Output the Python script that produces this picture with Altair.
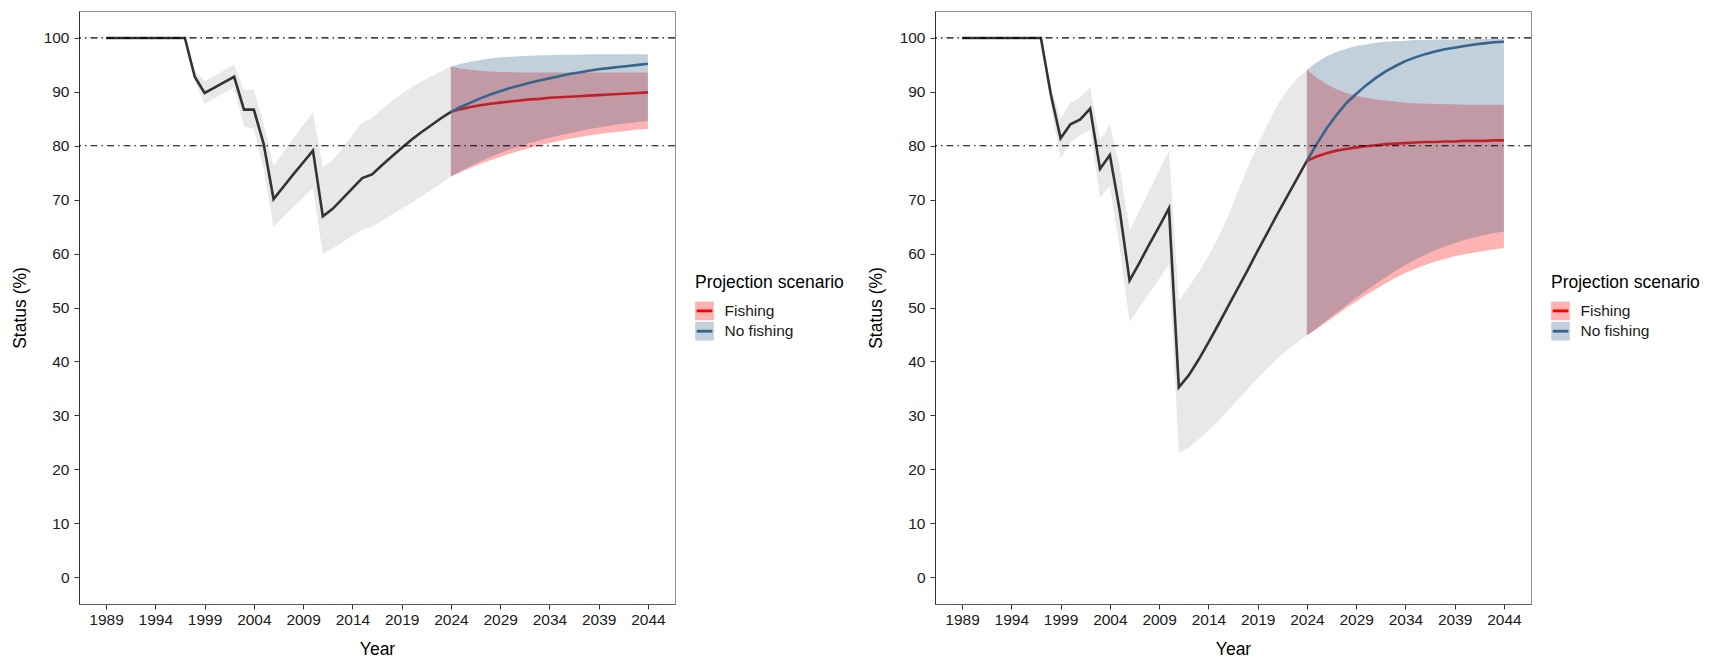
import altair as alt
import pandas as pd

# ---------------- data ----------------
YEARS_HIST = list(range(1989, 2025))
YEARS_PROJ = list(range(2024, 2045))
X_TICKS = [1989, 1994, 1999, 2004, 2009, 2014, 2019, 2024, 2029, 2034, 2039, 2044]
Y_TICKS = [0, 10, 20, 30, 40, 50, 60, 70, 80, 90, 100]
REF_LEVELS = [100, 80]
SCENARIOS = ["Fishing", "No fishing"]

# Left panel - historical
L_HIST = [100, 100, 100, 100, 100, 100, 100, 100, 100,
          92.8, 89.8, 90.8, 91.8, 92.8, 86.7, 86.7, 80.3, 70.1, 72.4, 74.7, 76.9, 79.1,
          66.9, 68.3, 70.2, 72.1, 74.0, 74.7, 76.4, 78.0, 79.6, 81.1, 82.5, 83.8, 85.1, 86.3]
L_HIST_LO = [100, 100, 100, 100, 100, 100, 100, 100, 100,
             92.0, 87.8, 88.8, 89.8, 90.8, 83.5, 83.2, 75.5, 65.0, 66.8, 68.6, 70.4, 72.2,
             59.9, 61.0, 62.1, 63.3, 64.4, 65.0, 66.1, 67.2, 68.3, 69.4, 70.6, 71.8, 73.0, 74.3]
L_HIST_HI = [100, 100, 100, 100, 100, 100, 100, 100, 100,
             93.9, 92.0, 93.0, 94.0, 95.0, 90.3, 90.4, 84.0, 76.3, 78.8, 81.3, 83.8, 86.2,
             76.0, 77.3, 79.6, 82.0, 84.3, 85.1, 86.8, 88.3, 89.6, 90.8, 91.9, 92.9, 93.8, 94.7]
# Left panel - projections (2024-2044)
L_F_MID = [86.3, 86.8, 87.2, 87.5, 87.8, 88.0, 88.2, 88.4, 88.6, 88.7, 88.9,
           89.0, 89.1, 89.2, 89.3, 89.4, 89.5, 89.6, 89.7, 89.8, 89.9]
L_F_LO = [74.3, 75.1, 75.9, 76.6, 77.3, 77.9, 78.5, 79.1, 79.6, 80.1, 80.5,
          80.9, 81.3, 81.6, 81.9, 82.2, 82.4, 82.6, 82.8, 83.0, 83.1]
L_F_HI = [94.7, 94.3, 94.1, 93.9, 93.8, 93.7, 93.7, 93.6, 93.6, 93.6, 93.6,
          93.6, 93.6, 93.6, 93.6, 93.6, 93.6, 93.6, 93.6, 93.6, 93.6]
L_NF_MID = [86.3, 87.2, 88.0, 88.8, 89.5, 90.1, 90.7, 91.2, 91.7, 92.1, 92.5,
            92.9, 93.3, 93.6, 93.9, 94.2, 94.4, 94.6, 94.8, 95.0, 95.2]
L_NF_LO = [74.3, 75.3, 76.2, 77.1, 77.9, 78.6, 79.3, 79.9, 80.5, 81.0, 81.5,
           81.9, 82.3, 82.7, 83.1, 83.4, 83.7, 84.0, 84.2, 84.4, 84.6]
L_NF_HI = [94.7, 95.2, 95.6, 95.9, 96.2, 96.4, 96.5, 96.6, 96.7, 96.8, 96.8,
           96.9, 96.9, 96.9, 97.0, 97.0, 97.0, 97.0, 97.0, 97.0, 97.0]

# Right panel - historical
R_HIST = [100, 100, 100, 100, 100, 100, 100, 100, 100,
          89.6, 81.4, 84.0, 84.9, 86.9, 75.7, 78.3, 68.0, 55.0, 58.3, 61.7, 65.0, 68.4,
          35.2, 37.4, 40.3, 43.5, 46.8, 50.2, 53.6, 57.0, 60.5, 63.9, 67.3, 70.6, 73.9, 77.2]
R_HIST_LO = [100, 100, 100, 100, 100, 100, 100, 100, 100,
             87.5, 77.7, 80.5, 82.0, 83.0, 70.4, 72.5, 61.0, 47.3, 50.0, 52.7, 55.3, 58.0,
             23.0, 24.0, 25.5, 27.2, 29.0, 30.9, 32.9, 34.9, 36.9, 38.8, 40.5, 42.1, 43.5, 44.8]
R_HIST_HI = [100, 100, 100, 100, 100, 100, 100, 100, 100,
             91.0, 85.0, 88.0, 89.0, 90.8, 81.0, 84.0, 76.0, 64.3, 68.0, 71.7, 75.4, 79.1,
             51.3, 53.8, 56.5, 59.5, 63.0, 67.0, 71.5, 76.0, 80.0, 84.0, 87.5, 90.3, 92.5, 94.1]
# Right panel - projections (2024-2044)
R_F_MID = [77.2, 78.0, 78.6, 79.1, 79.4, 79.7, 79.9, 80.1, 80.3, 80.4, 80.5,
           80.6, 80.7, 80.7, 80.8, 80.8, 80.9, 80.9, 80.9, 81.0, 81.0]
R_F_LO = [44.8, 46.0, 47.3, 48.6, 49.9, 51.1, 52.3, 53.4, 54.5, 55.5, 56.4,
          57.2, 57.9, 58.5, 59.0, 59.5, 59.9, 60.2, 60.5, 60.8, 61.0]
R_F_HI = [94.1, 92.6, 91.4, 90.5, 89.8, 89.3, 88.9, 88.6, 88.4, 88.2, 88.0,
          87.9, 87.8, 87.8, 87.7, 87.7, 87.6, 87.6, 87.6, 87.6, 87.6]
R_NF_MID = [77.2, 80.3, 83.2, 85.7, 87.9, 89.6, 91.2, 92.6, 93.8, 94.8, 95.7,
            96.4, 97.0, 97.5, 97.9, 98.2, 98.5, 98.8, 99.0, 99.2, 99.3]
R_NF_LO = [44.8, 46.2, 47.6, 49.0, 50.4, 51.8, 53.1, 54.4, 55.6, 56.8, 57.9,
           58.9, 59.8, 60.6, 61.3, 61.9, 62.5, 63.0, 63.4, 63.8, 64.1]
R_NF_HI = [94.1, 95.5, 96.6, 97.4, 98.0, 98.5, 98.8, 99.1, 99.3, 99.4, 99.5,
           99.6, 99.6, 99.7, 99.7, 99.7, 99.8, 99.8, 99.8, 99.8, 99.8]

# ---------------- styling ----------------
FONT = "Liberation Sans"
RED = "#FF0000"
BLUE = "#36648B"
GREY_BAND = "#E8E8E8"
HIST_LINE = "#333333"
LINE_W = 2.6
TICK_FS = 15.5
TITLE_FS = 17.5

XS = alt.Scale(domain=[1986.25, 2046.75], nice=False, zero=False)
YS = alt.Scale(domain=[-5, 105], nice=False, zero=False)
XA = alt.Axis(values=X_TICKS, title="Year", format="d", domainColor="#5a5a5a",
              labelPadding=3.8, titlePadding=11.9)
YA = alt.Axis(values=Y_TICKS, title="Status (%)", format="d", domainColor="#333333",
              labelPadding=5, titlePadding=13.5)
FILL_SCALE = alt.Scale(domain=SCENARIOS, range=[RED, BLUE])
LINE_SCALE = alt.Scale(range=[RED, BLUE])

common_leg = dict(orient="none", legendX=616, legendY=263.4, title="Projection scenario",
                  symbolSize=350, labelFontSize=15.5, titleFontSize=TITLE_FS,
                  labelOffset=10.5, titlePadding=9.5, rowPadding=1.3, padding=0,
                  titleFontWeight="normal", labelFont=FONT, titleFont=FONT,
                  labelColor="#1a1a1a", titleColor="#000000",
                  symbolStrokeWidth=0, symbolStrokeColor="transparent")
# pale key squares (ribbons)
FILL_LEG = alt.Legend(symbolType="square", symbolOpacity=0.3, zindex=0, **common_leg)
# line drawn across the key (thin filled bar inside a -1..1 box)
LINE_LEG = alt.Legend(
    symbolType="M -1 -1 M 1 1 M -0.84 -0.15 L 0.84 -0.15 L 0.84 0.15 L -0.84 0.15 Z",
    symbolOpacity=1, labelOpacity=0, titleOpacity=0, zindex=1, **common_leg)


def panel(hist, lo, hi, f_mid, f_lo, f_hi, nf_mid, nf_lo, nf_hi):
    hist_df = pd.DataFrame({"year": YEARS_HIST, "status": hist, "lo": lo, "hi": hi})
    proj_df = pd.concat([
        pd.DataFrame({"year": YEARS_PROJ, "status": f_mid, "lo": f_lo, "hi": f_hi,
                      "scenario": "Fishing"}),
        pd.DataFrame({"year": YEARS_PROJ, "status": nf_mid, "lo": nf_lo, "hi": nf_hi,
                      "scenario": "No fishing"}),
    ], ignore_index=True)
    proj_df["scenario_line"] = proj_df["scenario"]
    ref_df = pd.DataFrame({"ref": REF_LEVELS})

    X = alt.X("year:Q", scale=XS, axis=XA)

    band = alt.Chart(hist_df).mark_area(color=GREY_BAND, opacity=1).encode(
        x=X, y=alt.Y("lo:Q", scale=YS, axis=YA), y2="hi:Q")
    hline = alt.Chart(hist_df).mark_line(color=HIST_LINE, strokeWidth=LINE_W).encode(
        x=X, y=alt.Y("status:Q", scale=YS, axis=YA))

    layers = [band, hline]
    for s in SCENARIOS:
        base = alt.Chart(proj_df).transform_filter(alt.datum.scenario == s)
        layers.append(base.mark_area(opacity=0.3).encode(
            x=X, y=alt.Y("lo:Q", scale=YS, axis=YA), y2="hi:Q",
            fill=alt.Fill("scenario:N", scale=FILL_SCALE, legend=FILL_LEG)))
        layers.append(base.mark_line(strokeWidth=LINE_W).encode(
            x=X, y=alt.Y("status:Q", scale=YS, axis=YA),
            stroke=alt.Stroke("scenario_line:N", scale=LINE_SCALE, legend=None)))

    # invisible carrier for the line part of the legend keys
    keys = alt.Chart(proj_df).mark_point(filled=True, opacity=0).encode(
        x=X, y=alt.Y("status:Q", scale=YS, axis=YA),
        color=alt.Color("scenario_line:N", scale=LINE_SCALE, legend=LINE_LEG))
    layers.append(keys)

    rules = alt.Chart(ref_df).mark_rule(color="black", strokeWidth=1.2,
                                        strokeDash=[7, 4, 1.5, 4]).encode(
        y=alt.Y("ref:Q", scale=YS, axis=YA))
    layers.append(rules)
    return alt.layer(*layers).properties(width=596, height=593)


left = panel(L_HIST, L_HIST_LO, L_HIST_HI, L_F_MID, L_F_LO, L_F_HI,
             L_NF_MID, L_NF_LO, L_NF_HI)
right = panel(R_HIST, R_HIST_LO, R_HIST_HI, R_F_MID, R_F_LO, R_F_HI,
              R_NF_MID, R_NF_LO, R_NF_HI)

chart = alt.hconcat(left, right, spacing=260, bounds="flush").resolve_scale(
    fill="independent", stroke="independent", color="independent"
).resolve_legend(
    fill="independent", stroke="independent", color="independent"
).properties(
    padding={"left": 3, "top": 2, "right": 0, "bottom": 0},
    background="white",
).configure_axis(
    labelFont=FONT, labelFontSize=TICK_FS, labelColor="#1a1a1a",
    titleFont=FONT, titleFontSize=TITLE_FS, titleFontWeight="normal", titleColor="#000000",
    tickColor="#333333", tickSize=5, grid=False,
).configure_view(stroke="#8f8f8f", strokeWidth=1)

chart.save("out.html", embed_options={"renderer": "svg", "actions": False})
